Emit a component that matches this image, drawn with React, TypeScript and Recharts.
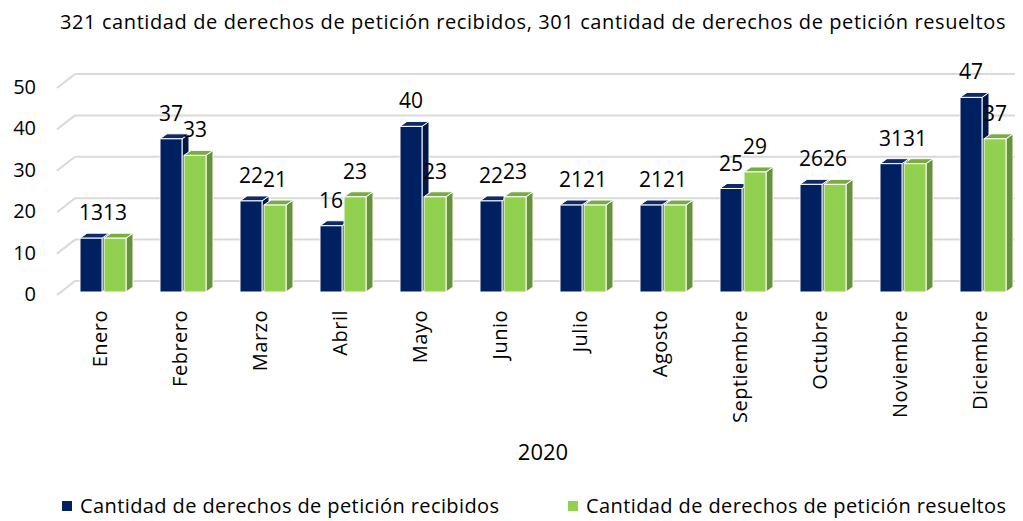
import { BarChart, Bar, XAxis, YAxis, CartesianGrid, LabelList } from "recharts";

const months = ["Enero", "Febrero", "Marzo", "Abril", "Mayo", "Junio", "Julio", "Agosto", "Septiembre", "Octubre", "Noviembre", "Diciembre"];
const recibidos = [13, 37, 22, 16, 40, 22, 21, 21, 25, 26, 31, 47];
const resueltos = [13, 33, 21, 23, 23, 23, 21, 21, 29, 26, 31, 37];
const yTicks = [0, 10, 20, 30, 40, 50];

const data = months.map((m, i) => ({ month: m, recibidos: recibidos[i], resueltos: resueltos[i] }));

const FONT = "'Open Sans', sans-serif";
const DEPTH_X = 7;
const DEPTH_Y = 5;

// front / top / side colours for the fake 3D bars
const NAVY = { front: "#002060", top: "#0e2b68", side: "#001849" };
const GREEN = { front: "#92D050", top: "#7aac40", side: "#67923a" };

const make3DBar = (c: { front: string; top: string; side: string }) => (props: any) => {
  const { x, y, width, height } = props;
  if (height == null || width == null) return <g />;
  const top = `${x},${y} ${x + DEPTH_X},${y - DEPTH_Y} ${x + width + DEPTH_X},${y - DEPTH_Y} ${x + width},${y}`;
  const side = `${x + width},${y} ${x + width + DEPTH_X},${y - DEPTH_Y} ${x + width + DEPTH_X},${y + height - DEPTH_Y} ${x + width},${y + height}`;
  return (
    <g>
      <polygon points={side} fill={c.side} stroke="#fff" strokeWidth={1} />
      <polygon points={top} fill={c.top} stroke="#fff" strokeWidth={1} />
      <rect x={x} y={y} width={width} height={height} fill={c.front} stroke="#fff" strokeWidth={1} />
    </g>
  );
};

// back wall grid lines, drawn with a little perspective to match the 3D look
const GridLine = (props: any) => {
  const { y1, x2 } = props;
  const yb = y1 - 11;
  return (
    <g>
      <line x1={57} y1={yb + 14} x2={75} y2={yb} stroke="#d9d9d9" strokeWidth={2} />
      <line x1={75} y1={yb} x2={x2 - 8} y2={yb} stroke="#d9d9d9" strokeWidth={2} />
    </g>
  );
};

const YTick = (props: any) => {
  const { y, payload } = props;
  return (
    <text x={36} y={y + 2} dy={7} textAnchor="end" fill="#000" fontSize={20} fontFamily={FONT}>
      {payload.value}
    </text>
  );
};

const XTick = (props: any) => {
  const { x, payload } = props;
  return (
    <g transform={`translate(${x + 4},310)`}>
      <text x={0} y={0} textAnchor="end" transform="rotate(-90)" fill="#000" fontSize={20} letterSpacing={0.5} fontFamily={FONT}>
        {payload.value}
      </text>
    </g>
  );
};

const ValueLabel = (props: any) => {
  const { x, y, width, value } = props;
  return (
    <text x={x + width / 2} y={y - 18} textAnchor="middle" fill="#000" fontSize={21} fontFamily={FONT}>
      {value}
    </text>
  );
};

const legendItems = [
  { name: "Cantidad de derechos de petición recibidos", color: NAVY.front, left: 62 },
  { name: "Cantidad de derechos de petición resueltos", color: GREEN.front, left: 568 },
];

export default function App() {
  return (
    <div style={{ position: "absolute", left: 0, top: 0, width: 1023, height: 521, background: "#fff", fontFamily: FONT }}>
      <div style={{ position: "absolute", left: 0, top: 8, width: 1066, textAlign: "center", fontSize: 20, letterSpacing: 0.6, color: "#000" }}>
        321 cantidad de derechos de petición recibidos, 301 cantidad de derechos de petición resueltos
      </div>
      <BarChart
        width={1023}
        height={521}
        data={data}
        margin={{ top: 85, right: 0, left: 0, bottom: 49 }}
        barSize={22}
        barGap={2}
      >
        <CartesianGrid vertical={false} horizontal={<GridLine />} />
        <XAxis
          dataKey="month"
          interval={0}
          height={180}
          axisLine={false}
          tickLine={false}
          tick={<XTick />}
          label={{ value: "2020", position: "insideBottom", offset: 12, fontSize: 22, fill: "#000", fontFamily: FONT }}
        />
        <YAxis
          width={63}
          domain={[0, 50]}
          ticks={yTicks}
          axisLine={false}
          tickLine={false}
          tick={<YTick />}
        />
        <Bar dataKey="recibidos" name="Cantidad de derechos de petición recibidos" fill={NAVY.front} shape={make3DBar(NAVY)} isAnimationActive={false}>
          <LabelList dataKey="recibidos" content={<ValueLabel />} />
        </Bar>
        <Bar dataKey="resueltos" name="Cantidad de derechos de petición resueltos" fill={GREEN.front} shape={make3DBar(GREEN)} isAnimationActive={false}>
          <LabelList dataKey="resueltos" content={<ValueLabel />} />
        </Bar>
      </BarChart>
      {legendItems.map((item) => (
        <div key={item.name} style={{ position: "absolute", left: item.left, top: 492, display: "flex", alignItems: "center", fontSize: 20, letterSpacing: 0.4, color: "#000" }}>
          <span style={{ display: "inline-block", width: 10, height: 10, background: item.color, marginRight: 8 }} />
          {item.name}
        </div>
      ))}
    </div>
  );
}
